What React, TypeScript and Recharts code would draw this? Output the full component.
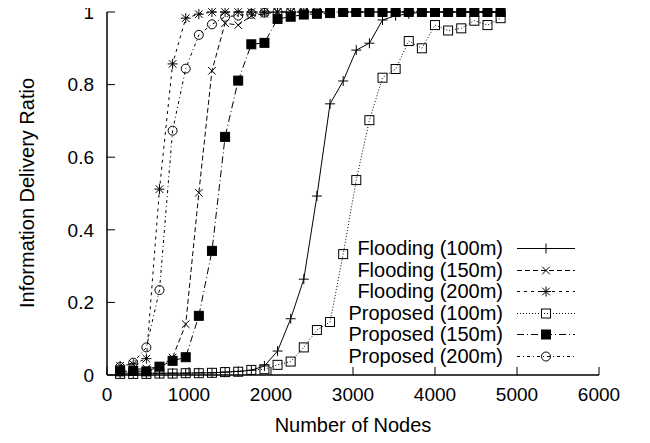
import { LineChart, Line, XAxis, YAxis, Label } from 'recharts'

const nodes = [160, 320, 480, 640, 800, 960, 1120, 1280, 1440, 1600, 1760, 1920, 2080, 2240, 2400, 2560, 2720, 2880, 3040, 3200, 3360, 3520, 3680, 3840, 4000, 4160, 4320, 4480, 4640, 4800]

const flooding100 = [0.005, 0.005, 0.005, 0.005, 0.005, 0.005, 0.006, 0.006, 0.008, 0.01, 0.013, 0.025, 0.066, 0.155, 0.264, 0.493, 0.747, 0.81, 0.895, 0.914, 0.978, 0.99, 0.995, 1, 1, 1, 1, 1, 1, 1]
const flooding150 = [0.015, 0.015, 0.018, 0.022, 0.048, 0.14, 0.502, 0.838, 0.969, 0.964, 0.99, 0.995, 1, 1, 1, 1, 1, 1, 1, 1, 1, 1, 1, 1, 1, 1, 1, 1, 1, 1]
const flooding200 = [0.025, 0.03, 0.045, 0.512, 0.857, 0.983, 0.994, 1, 1, 1, 1, 1, 1, 1, 1, 1, 1, 1, 1, 1, 1, 1, 1, 1, 1, 1, 1, 1, 1, 1]
const proposed100 = [0.003, 0.003, 0.003, 0.004, 0.004, 0.005, 0.005, 0.006, 0.008, 0.009, 0.014, 0.016, 0.028, 0.037, 0.076, 0.124, 0.146, 0.333, 0.537, 0.702, 0.819, 0.843, 0.92, 0.9, 0.964, 0.949, 0.955, 0.976, 0.964, 0.983]
const proposed150 = [0.01, 0.011, 0.01, 0.023, 0.039, 0.049, 0.163, 0.342, 0.656, 0.811, 0.911, 0.915, 0.981, 0.987, 0.993, 0.995, 0.997, 1, 1, 1, 1, 1, 1, 1, 1, 1, 1, 1, 1, 1]
const proposed200 = [0.022, 0.034, 0.076, 0.234, 0.673, 0.844, 0.937, 0.966, 0.987, 0.99, 0.995, 0.998, 1, 1, 1, 1, 1, 1, 1, 1, 1, 1, 1, 1, 1, 1, 1, 1, 1, 1]

const xTicks = [0, 1000, 2000, 3000, 4000, 5000, 6000]
const yTicks = [0, 0.2, 0.4, 0.6, 0.8, 1]

const FONT = '"Liberation Sans", Arial, Helvetica, sans-serif'

type Shape = 'plus' | 'cross' | 'star' | 'square' | 'filled' | 'circle'

const SERIES: { key: string; name: string; dash?: string; shape: Shape }[] = [
  { key: 'f100', name: 'Flooding (100m)', shape: 'plus' },
  { key: 'f150', name: 'Flooding (150m)', dash: '5 3', shape: 'cross' },
  { key: 'f200', name: 'Flooding (200m)', dash: '3 4', shape: 'star' },
  { key: 'p100', name: 'Proposed (100m)', dash: '1 2', shape: 'square' },
  { key: 'p150', name: 'Proposed (150m)', dash: '7 3 1 3', shape: 'filled' },
  { key: 'p200', name: 'Proposed (200m)', dash: '3 3 1 3', shape: 'circle' },
]

const data = nodes.map((n, i) => ({
  nodes: n,
  f100: flooding100[i],
  f150: flooding150[i],
  f200: flooding200[i],
  p100: proposed100[i],
  p150: proposed150[i],
  p200: proposed200[i],
}))

function Marker({ shape, cx, cy }: { shape: Shape; cx: number; cy: number }) {
  const s = 5
  const d = 3.8
  switch (shape) {
    case 'plus':
      return <path d={`M${cx - s},${cy}H${cx + s}M${cx},${cy - s}V${cy + s}`} stroke="#000" strokeWidth={1} />
    case 'cross':
      return <path d={`M${cx - d},${cy - d}L${cx + d},${cy + d}M${cx - d},${cy + d}L${cx + d},${cy - d}`} stroke="#000" strokeWidth={1} />
    case 'star':
      return (
        <path
          d={`M${cx - s},${cy}H${cx + s}M${cx},${cy - s}V${cy + s}M${cx - d},${cy - d}L${cx + d},${cy + d}M${cx - d},${cy + d}L${cx + d},${cy - d}`}
          stroke="#000"
          strokeWidth={1}
        />
      )
    case 'square':
      return <rect x={cx - 4.5} y={cy - 4.5} width={9} height={9} fill="none" stroke="#000" strokeWidth={1} />
    case 'filled':
      return <rect x={cx - 4.5} y={cy - 4.5} width={9} height={9} fill="#000" stroke="#000" strokeWidth={1} />
    default:
      return <circle cx={cx} cy={cy} r={4.5} fill="none" stroke="#000" strokeWidth={1} />
  }
}

const makeDot = (shape: Shape) => (props: any) => (
  <g key={`${shape}-${props.index}`}>
    <Marker shape={shape} cx={props.cx} cy={props.cy} />
  </g>
)

// gnuplot-style key, sitting inside the plot at the lower right
function KeyBox() {
  return (
    <div style={{ position: 'absolute', left: 315, top: 238, fontFamily: FONT, fontSize: 20, color: '#000' }}>
      {SERIES.map(s => (
        <div key={s.key} style={{ display: 'flex', alignItems: 'center', height: 21.5 }}>
          <div style={{ width: 180, textAlign: 'right', lineHeight: '21.5px', whiteSpace: 'nowrap' }}>{s.name}</div>
          <svg width={58} height={21} style={{ marginLeft: 14 }}>
            <line x1={0} y1={10.5} x2={58} y2={10.5} stroke="#000" strokeWidth={1} strokeDasharray={s.dash} />
            <Marker shape={s.shape} cx={29} cy={10.5} />
          </svg>
        </div>
      ))}
    </div>
  )
}

export default function App() {
  return (
    <div style={{ position: 'relative', width: 634, height: 435, marginTop: -8 }}>
      <LineChart width={634} height={435} data={data} margin={{ top: 12, right: 43, left: 39, bottom: 30 }}>
        <XAxis
          dataKey="nodes"
          type="number"
          domain={[0, 6000]}
          ticks={xTicks}
          tickSize={-8}
          tickMargin={21}
          axisLine={{ stroke: '#000', strokeWidth: 1.5 }}
          tickLine={{ stroke: '#000', strokeWidth: 1 }}
          tick={{ fill: '#000', fontSize: 19, fontFamily: FONT }}
          height={30}
          interval={0}
        >
          <Label
            content={() => (
              <text x={345} y={432} textAnchor="middle" fontFamily={FONT} fontSize={20} fill="#000">
                Number of Nodes
              </text>
            )}
          />
        </XAxis>
        <XAxis
          xAxisId="top"
          orientation="top"
          dataKey="nodes"
          type="number"
          domain={[0, 6000]}
          ticks={xTicks}
          tickSize={-8}
          tickFormatter={() => ''}
          axisLine={{ stroke: '#000', strokeWidth: 1.5 }}
          tickLine={{ stroke: '#000', strokeWidth: 1 }}
          height={0}
          interval={0}
        />
        <YAxis
          type="number"
          domain={[0, 1]}
          ticks={yTicks}
          tickSize={-8}
          tickMargin={21}
          axisLine={{ stroke: '#000', strokeWidth: 1.5 }}
          tickLine={{ stroke: '#000', strokeWidth: 1 }}
          tick={{ fill: '#000', fontSize: 19, fontFamily: FONT }}
          width={60}
          interval={0}
        >
          <Label
            content={() => (
              <text
                x={26}
                y={193}
                transform="rotate(-90 26 193)"
                textAnchor="middle"
                fontFamily={FONT}
                fontSize={20}
                fill="#000"
              >
                Information Delivery Ratio
              </text>
            )}
          />
        </YAxis>
        <YAxis
          yAxisId="right"
          orientation="right"
          type="number"
          domain={[0, 1]}
          ticks={yTicks}
          tickSize={-8}
          tickFormatter={() => ''}
          axisLine={{ stroke: '#000', strokeWidth: 1.5 }}
          tickLine={{ stroke: '#000', strokeWidth: 1 }}
          width={0}
          interval={0}
        />
        {SERIES.map(s => (
          <Line
            key={s.key}
            type="linear"
            dataKey={s.key}
            name={s.name}
            stroke="#000"
            strokeWidth={1}
            strokeDasharray={s.dash}
            dot={makeDot(s.shape)}
            activeDot={false}
            isAnimationActive={false}
          />
        ))}
      </LineChart>
      <KeyBox />
    </div>
  )
}
